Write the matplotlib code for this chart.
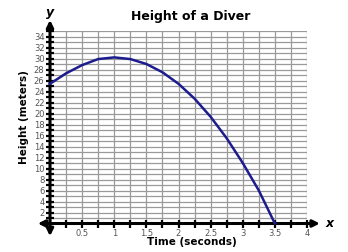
import numpy as np
from matplotlib import pyplot as plt

# ---------- Data
time_s = [0, 0.25, 0.5, 0.75, 1, 1.25, 1.5, 1.75, 2, 2.25, 2.5, 2.75, 3, 3.25, 3.5]
height_m = [25.4, 27.3, 28.8, 29.9, 30.2, 29.9, 29.0, 27.5, 25.4, 22.7, 19.4, 15.5, 11.0, 6.0, 0.0]
x_labels = ['0.5', '1', '1.5', '2', '2.5', '3', '3.5', '4']
y_labels = [str(v) for v in range(2, 35, 2)]

plt.rcParams['font.family'] = 'DejaVu Sans'

fig = plt.figure(figsize=(3.48, 2.52), dpi=100)
ax = fig.add_axes([50/348, 28.5/252, 257/348, 192.5/252])

ax.set_xlim(0, 4)
ax.set_ylim(0, 35)
for s in ax.spines.values():
	s.set_visible(False)

# ---------- Grid
ax.set_xticks(np.arange(0.5, 4.01, 0.5))
ax.set_xticklabels(x_labels)
ax.set_xticks(np.arange(0, 4.01, 0.25), minor=True)
ax.set_yticks(np.arange(2, 35, 2))
ax.set_yticklabels(y_labels)
ax.set_yticks(np.arange(0, 35.01, 1), minor=True)
ax.grid(which='both', color='#9a9a9a', lw=0.9)
ax.tick_params(which='both', direction='inout', length=6, width=1.6, color='black',
	labelsize=6, labelcolor='#555555', pad=1)

# ---------- Axes with arrows
ax.annotate('', xy=(4.2, 0), xytext=(-0.19, 0), annotation_clip=False,
	arrowprops=dict(arrowstyle='<|-|>', lw=2.2, color='black', mutation_scale=10, shrinkA=0, shrinkB=0))
ax.annotate('', xy=(0, 37), xytext=(0, -2.3), annotation_clip=False,
	arrowprops=dict(arrowstyle='<|-|>', lw=2.2, color='black', mutation_scale=10, shrinkA=0, shrinkB=0))
ax.text(4.35, 0, 'x', style='italic', fontweight='bold', fontsize=9, va='center', ha='center', clip_on=False)
ax.text(0, 38.3, 'y', style='italic', fontweight='bold', fontsize=9, va='center', ha='center', clip_on=False)

# ---------- Curve
ax.plot(time_s, height_m, color='#1c1c8e', lw=1.8, clip_on=False, zorder=5)

fig.text(0.548, 0.935, 'Height of a Diver', fontsize=9, fontweight='bold', ha='center', va='center')
fig.text(0.55, 0.04, 'Time (seconds)', fontsize=7.5, fontweight='bold', ha='center', va='center')
fig.text(0.069, 0.534, 'Height (meters)', fontsize=7.5, fontweight='bold', ha='center', va='center', rotation=90)

plt.savefig('out.png', dpi=100)
